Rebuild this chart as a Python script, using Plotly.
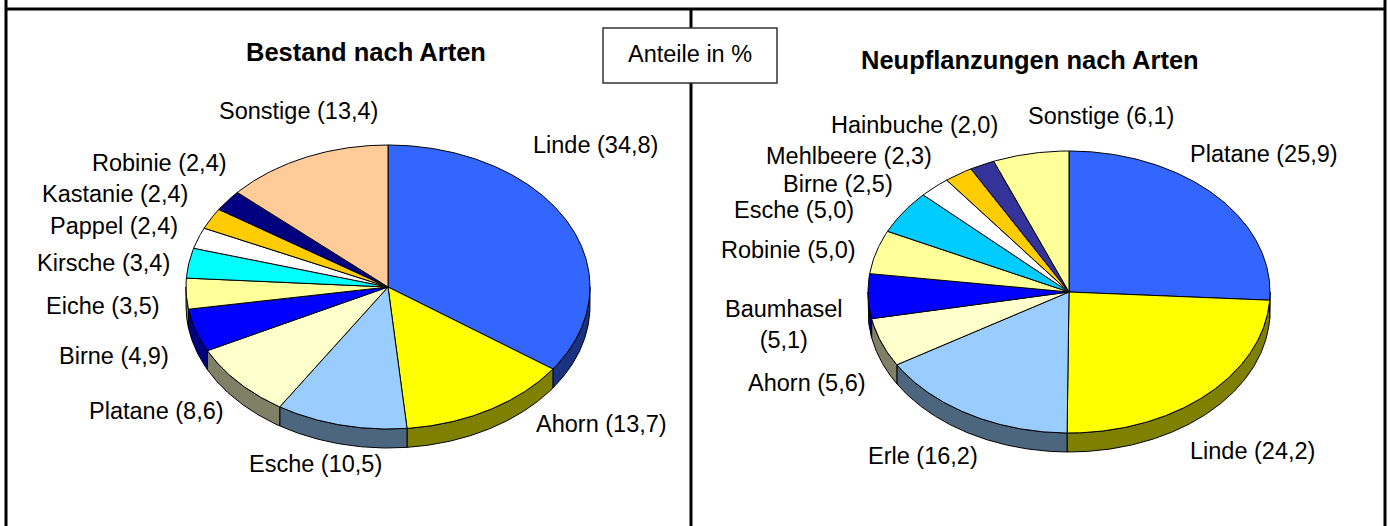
import numpy as np
import plotly.graph_objects as go

# ---------------- data ----------------
left_title = "Bestand nach Arten"
left_names = ["Linde", "Ahorn", "Esche", "Platane", "Birne", "Eiche", "Kirsche",
              "Pappel", "Kastanie", "Robinie", "Sonstige"]
left_values = [34.8, 13.7, 10.5, 8.6, 4.9, 3.5, 3.4, 2.4, 2.4, 2.4, 13.4]
left_colors = ["#3366FF", "#FFFF00", "#99CCFF", "#FFFFCC", "#0000FF", "#FFFF99",
               "#00FFFF", "#FFFFFF", "#FFCC00", "#000080", "#FFCC99"]

right_title = "Neupflanzungen nach Arten"
right_names = ["Platane", "Linde", "Erle", "Ahorn", "Baumhasel", "Robinie", "Esche",
               "Birne", "Mehlbeere", "Hainbuche", "Sonstige"]
right_values = [25.9, 24.2, 16.2, 5.6, 5.1, 5.0, 5.0, 2.5, 2.3, 2.0, 6.1]
right_colors = ["#3366FF", "#FFFF00", "#99CCFF", "#FFFFCC", "#0000FF", "#FFFF99",
                "#00CCFF", "#FFFFFF", "#FFCC00", "#333399", "#FFFF99"]

unit_note = "Anteile in %"

# ---------------- layout (pixel space) ----------------
W, H = 1391, 526
FONT = "Liberation Sans, Arial, sans-serif"

left_geom = dict(cx=388, cy=287, rx=202, ry=142, depth=19)
right_geom = dict(cx=1069, cy=292, rx=201, ry=141, depth=19)

# label centres (x, y) in pixels, same order as the names
left_label_pos = [(595, 145), (601, 424), (315, 464), (156, 411), (114, 356),
                  (103, 306), (103, 263), (114, 226), (115, 194), (159, 163),
                  (298, 111)]
right_label_pos = [(1264, 154), (1252, 451), (923, 456), (807, 383), (784, 324),
                   (788, 250), (794, 210), (838, 184), (849, 156), (914, 125),
                   (1101, 116)]


def fmt(v):
    return f"{v:.1f}".replace(".", ",")


def darken(hexcol, f=0.5):
    h = hexcol.lstrip("#")
    r, g, b = (int(h[i:i + 2], 16) for i in (0, 2, 4))
    return "#%02X%02X%02X" % (round(r * f), round(g * f), round(b * f))


def pt(g, th, dy=0.0):
    return g["cx"] + g["rx"] * np.sin(th), g["cy"] - g["ry"] * np.cos(th) + dy


fig = go.Figure()


def add_pie(values, colors, g):
    total = sum(values)
    bounds = np.concatenate([[0], np.cumsum(values) / total * 2 * np.pi])
    # sides (front half only: angles between pi/2 and 3pi/2 measured clockwise from top)
    for i, col in enumerate(colors):
        a0, a1 = max(bounds[i], np.pi / 2), min(bounds[i + 1], 3 * np.pi / 2)
        if a1 <= a0:
            continue
        th = np.linspace(a0, a1, max(4, int(np.degrees(a1 - a0) * 2)))
        xt, yt = pt(g, th)
        xb, yb = pt(g, th[::-1], g["depth"])
        xs = np.concatenate([xt, xb, xt[:1]])
        ys = np.concatenate([yt, yb, yt[:1]])
        fig.add_trace(go.Scatter(x=xs, y=ys, mode="lines", fill="toself",
                                 fillcolor=darken(col), line=dict(color="black", width=1),
                                 hoverinfo="skip", showlegend=False))
    # top face wedges
    for i, col in enumerate(colors):
        a0, a1 = bounds[i], bounds[i + 1]
        th = np.linspace(a0, a1, max(4, int(np.degrees(a1 - a0) * 2)))
        xa, ya = pt(g, th)
        xs = np.concatenate([[g["cx"]], xa, [g["cx"]]])
        ys = np.concatenate([[g["cy"]], ya, [g["cy"]]])
        fig.add_trace(go.Scatter(x=xs, y=ys, mode="lines", fill="toself",
                                 fillcolor=col, line=dict(color="black", width=1),
                                 hoverinfo="skip", showlegend=False))


add_pie(left_values, left_colors, left_geom)
add_pie(right_values, right_colors, right_geom)

annotations = []


def add_labels(names, values, positions):
    for n, v, (x, y) in zip(names, values, positions):
        txt = f"{n} ({fmt(v)})"
        if n == "Baumhasel":
            txt = f"{n}<br>({fmt(v)})"
        annotations.append(dict(x=x, y=y, xref="x", yref="y", text=txt, showarrow=False,
                                xanchor="center", yanchor="middle",
                                font=dict(family=FONT, size=23.5, color="black")))


add_labels(left_names, left_values, left_label_pos)
add_labels(right_names, right_values, right_label_pos)

annotations.append(dict(x=366, y=52, xref="x", yref="y", text=f"<b>{left_title}</b>",
                        showarrow=False, xanchor="center", yanchor="middle",
                        font=dict(family=FONT, size=25.5, color="black")))
annotations.append(dict(x=1030, y=60, xref="x", yref="y", text=f"<b>{right_title}</b>",
                        showarrow=False, xanchor="center", yanchor="middle",
                        font=dict(family=FONT, size=25.5, color="black")))
annotations.append(dict(x=690, y=54, xref="x", yref="y", text=unit_note,
                        showarrow=False, xanchor="center", yanchor="middle",
                        font=dict(family=FONT, size=23.5, color="black")))

shapes = [
    dict(type="line", x0=6, x1=6, y0=0, y1=H, xref="x", yref="y", line=dict(color="black", width=3)),
    dict(type="line", x0=1385, x1=1385, y0=0, y1=H, xref="x", yref="y", line=dict(color="black", width=3)),
    dict(type="line", x0=6, x1=1385, y0=9, y1=9, xref="x", yref="y", line=dict(color="black", width=3)),
    dict(type="line", x0=691, x1=691, y0=9, y1=H, xref="x", yref="y", line=dict(color="black", width=3)),
    dict(type="rect", x0=603, x1=777, y0=28, y1=83, xref="x", yref="y",
         line=dict(color="#333333", width=1.5), fillcolor="white"),
]

fig.update_layout(
    width=W, height=H, margin=dict(l=0, r=0, t=0, b=0, pad=0),
    paper_bgcolor="white", plot_bgcolor="white",
    xaxis=dict(range=[0, W], visible=False, fixedrange=True),
    yaxis=dict(range=[H, 0], visible=False, fixedrange=True),
    annotations=annotations, shapes=shapes, showlegend=False,
)

fig.write_html(
    "out.html",
    config={"displayModeBar": False},
    post_script="document.body.style.margin='0';document.body.style.overflow='hidden';",
)
